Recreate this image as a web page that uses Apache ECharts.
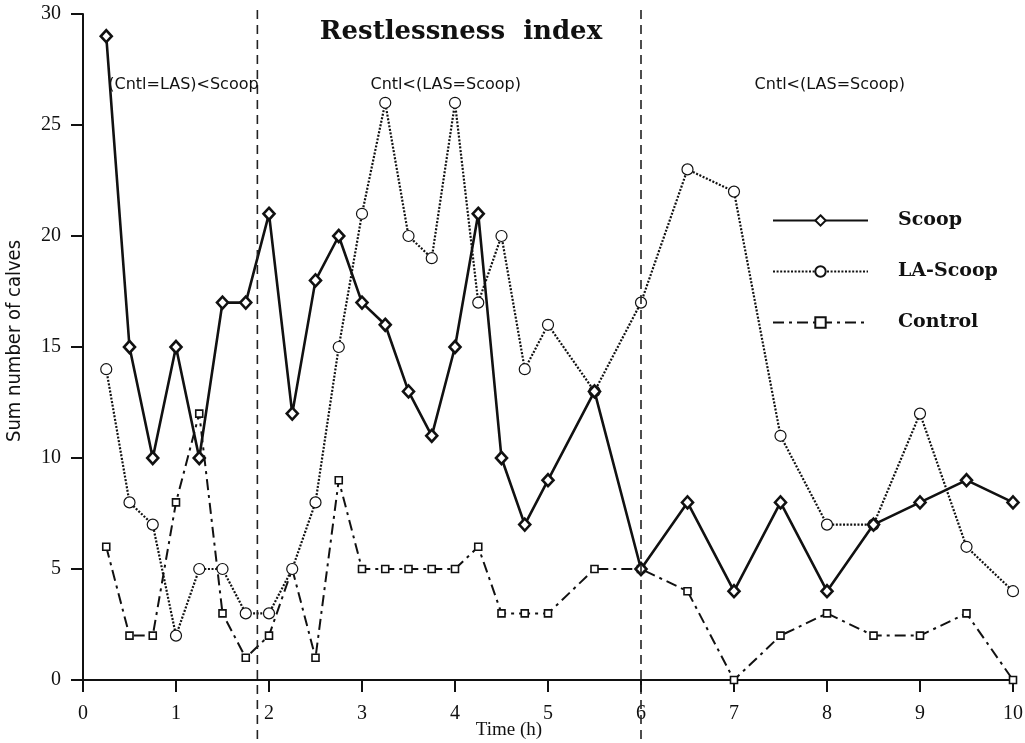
<!DOCTYPE html>
<html><head><meta charset="utf-8">
<script src="https://cdn.jsdelivr.net/npm/echarts@6/dist/echarts.min.js"></script>
<style>html,body{margin:0;padding:0;background:#fff}#c{width:1025px;height:743px}</style>
</head><body><div id="c"></div>
<script>
// ---- data ----
const times = [0.25,0.5,0.75,1,1.25,1.5,1.75,2,2.25,2.5,2.75,3,3.25,3.5,3.75,4,4.25,4.5,4.75,5,5.5,6,6.5,7,7.5,8,8.5,9,9.5,10];
const scoop   = [29,15,10,15,10,17,17,21,12,18,20,17,16,13,11,15,21,10,7,9,13,5,8,4,8,4,7,8,9,8];
const laScoop = [14,8,7,2,5,5,3,3,5,8,15,21,26,20,19,26,17,20,14,16,13,17,23,22,11,7,7,12,6,4];
const control = [6,2,2,8,12,3,1,2,5,1,9,5,5,5,5,5,6,3,3,3,5,5,4,0,2,3,2,2,3,0];
const seriesNames = ['Scoop','LA-Scoop','Control'];
const dividers = [1.875, 6];
const annotationTexts = ['(Cntl=LAS)<Scoop','Cntl<(LAS=Scoop)','Cntl<(LAS=Scoop)'];
const titleText = 'Restlessness  index';
const xName = 'Time (h)';
const yName = 'Sum number of calves';

const pair = (ys) => times.map((t, i) => [t, ys[i]]);
const ink = '#111';
const tickFont = {color: ink, fontFamily: 'Liberation Serif', fontSize: 20};

const chart = echarts.init(document.getElementById('c'), null, {renderer: 'canvas'});
const option = {
  backgroundColor: '#fff',
  animation: false,
  title: [
    {text: titleText, left: 456, top: 14, textAlign: 'center',
     textStyle: {fontFamily: 'DejaVu Serif', fontWeight: 'bold', fontSize: 26, color: ink}},
    {text: xName, left: 504, top: 716, textAlign: 'center',
     textStyle: {fontFamily: 'Liberation Serif', fontWeight: 'normal', fontSize: 19, color: ink}}
  ],
  grid: {left: 83, right: 12, top: 14, bottom: 63, outerBoundsMode: 'none', containLabel: false},
  xAxis: {
    type: 'value', min: 0, max: 10, interval: 1,
    axisLine: {show: true, onZero: false, lineStyle: {color: ink, width: 2}},
    axisTick: {show: true, inside: false, length: 12, lineStyle: {color: ink, width: 2}},
    axisLabel: Object.assign({margin: 24}, tickFont),
    splitLine: {show: false}
  },
  yAxis: {
    type: 'value', min: 0, max: 30, interval: 5,
    name: yName, nameLocation: 'middle', nameGap: 58, nameRotate: 90,
    nameTextStyle: {fontFamily: 'DejaVu Sans Condensed', fontSize: 20, color: ink, padding: [0, 0, 0, 12]},
    axisLine: {show: true, lineStyle: {color: ink, width: 2}},
    axisTick: {show: true, inside: false, length: 12, lineStyle: {color: ink, width: 2}},
    axisLabel: Object.assign({margin: 22}, tickFont),
    splitLine: {show: false}
  },
  legend: {
    orient: 'vertical', left: 767, top: 206, itemWidth: 95, itemHeight: 13, itemGap: 32,
    data: seriesNames,
    textStyle: {fontFamily: 'DejaVu Serif', fontWeight: 'bold', fontSize: 19, color: ink, padding: [0,0,0,25]}
  },
  series: [
    {name: seriesNames[0], type: 'line', data: pair(scoop), z: 5,
     symbol: 'diamond', symbolSize: [11, 12], showAllSymbol: true,
     lineStyle: {color: ink, width: 2.6, type: 'solid'},
     itemStyle: {color: '#fff', borderColor: ink, borderWidth: 2.6}},
    {name: seriesNames[1], type: 'line', data: pair(laScoop), z: 4,
     symbol: 'circle', symbolSize: 11, showAllSymbol: true,
     lineStyle: {color: ink, width: 2.2, type: [2, 1.6]},
     itemStyle: {color: '#fff', borderColor: ink, borderWidth: 1.2}},
    {name: seriesNames[2], type: 'line', data: pair(control), z: 3,
     symbol: 'rect', symbolSize: 7, showAllSymbol: true,
     lineStyle: {color: ink, width: 2, type: [11, 5, 3, 5]},
     itemStyle: {color: '#fff', borderColor: ink, borderWidth: 1.6}}
  ]
};
chart.setOption(option);

// vertical dividers and annotation texts positioned through the axis scales
const annX = [1.08, 3.9, 8.03];
const graphics = [];
dividers.forEach((d) => {
  const px = chart.convertToPixel({xAxisIndex: 0}, d);
  graphics.push({type: 'line', silent: true, z: 10,
    shape: {x1: px, y1: 10, x2: px, y2: 743},
    style: {stroke: '#222', lineWidth: 1.6, lineDash: [9, 6]}});
});
annotationTexts.forEach((t, i) => {
  const px = chart.convertToPixel({xAxisIndex: 0}, annX[i]);
  graphics.push({type: 'text', silent: true, z: 10, x: px, y: 85,
    style: {text: t, fill: ink, font: '16px "DejaVu Sans"', textAlign: 'center', textVerticalAlign: 'middle'}});
});
chart.setOption({graphic: graphics});
</script></body></html>
